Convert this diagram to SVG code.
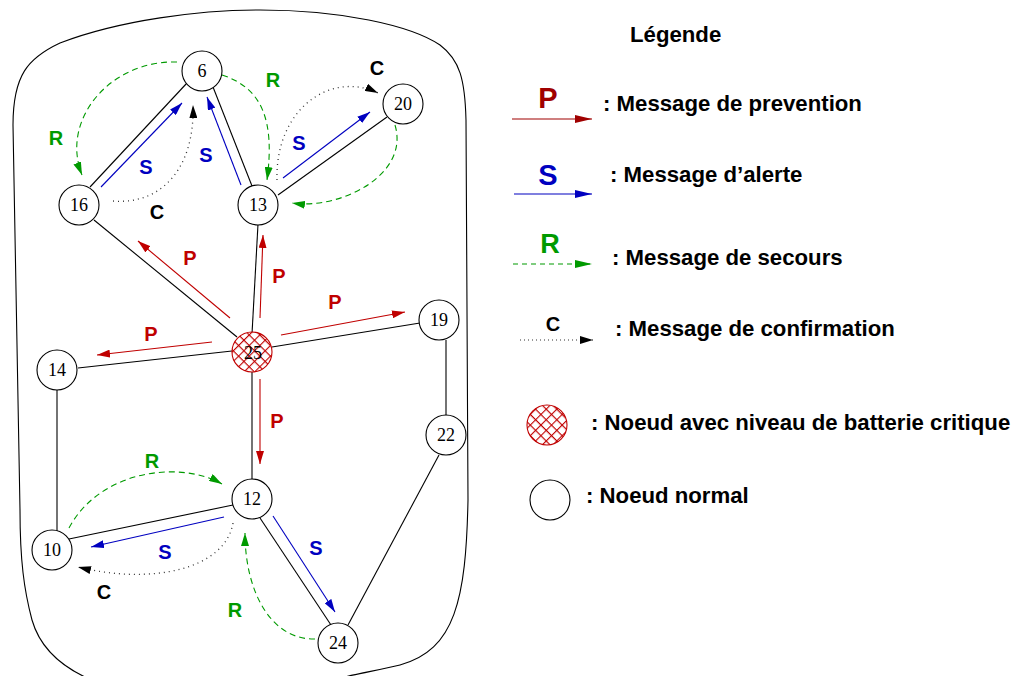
<svg xmlns="http://www.w3.org/2000/svg" width="1013" height="676" viewBox="0 0 1013 676">
<style>
.edge{stroke:#000;stroke-width:1.1;fill:none}
.node circle{fill:#fff;stroke:#000;stroke-width:1.1}
.nl{font-family:"Liberation Serif",serif;font-size:18px;text-anchor:middle;fill:#000}
.lbl{font-family:"Liberation Sans",Arial,sans-serif;font-weight:bold;font-size:20px;text-anchor:middle}
.leg{font-family:"Liberation Sans",Arial,sans-serif;font-weight:bold;font-size:22.2px;fill:#000}
.p{stroke:#c00000;stroke-width:1.1;fill:none;marker-end:url(#mP)}
.s{stroke:#0000c0;stroke-width:1.1;fill:none;marker-end:url(#mS)}
.r{stroke:#009a00;stroke-width:1.1;fill:none;stroke-dasharray:6,4;marker-end:url(#mR)}
.c{stroke:#333;stroke-width:1.3;fill:none;stroke-dasharray:1,4;marker-end:url(#mC)}
.pt{fill:#c00000}.st{fill:#0000c0}.rt{fill:#009a00}.ct{fill:#000}
</style>
<defs>
<marker id="mP" markerUnits="userSpaceOnUse" markerWidth="13" markerHeight="8" viewBox="0 0 13 8" refX="13" refY="4" orient="auto"><path d="M0,0 L13,4 L0,8 Z" fill="#c00000"/></marker>
<marker id="mS" markerUnits="userSpaceOnUse" markerWidth="13" markerHeight="8" viewBox="0 0 13 8" refX="13" refY="4" orient="auto"><path d="M0,0 L13,4 L0,8 Z" fill="#0000c0"/></marker>
<marker id="mR" markerUnits="userSpaceOnUse" markerWidth="13" markerHeight="8" viewBox="0 0 13 8" refX="13" refY="4" orient="auto"><path d="M0,0 L13,4 L0,8 Z" fill="#009a00"/></marker>
<marker id="mC" markerUnits="userSpaceOnUse" markerWidth="13" markerHeight="8" viewBox="0 0 13 8" refX="13" refY="4" orient="auto"><path d="M0,0 L13,4 L0,8 Z" fill="#000"/></marker>
<marker id="lP" markerUnits="userSpaceOnUse" markerWidth="17" markerHeight="8" viewBox="0 0 17 8" refX="17" refY="4" orient="auto"><path d="M0,0 L17,4 L0,8 Z" fill="#a00000"/></marker>
<marker id="lS" markerUnits="userSpaceOnUse" markerWidth="17" markerHeight="8" viewBox="0 0 17 8" refX="17" refY="4" orient="auto"><path d="M0,0 L17,4 L0,8 Z" fill="#0000c0"/></marker>
<marker id="lR" markerUnits="userSpaceOnUse" markerWidth="17" markerHeight="8" viewBox="0 0 17 8" refX="17" refY="4" orient="auto"><path d="M0,0 L17,4 L0,8 Z" fill="#009a00"/></marker>
<pattern id="hatch" patternUnits="userSpaceOnUse" width="7.5" height="7.5" patternTransform="rotate(45)">
<rect width="7.5" height="7.5" fill="#fff"/>
<path d="M0,0 L0,7.5 M0,0 L7.5,0" stroke="#c00000" stroke-width="2.2"/>
</pattern>
</defs>
<rect width="1013" height="676" fill="#fff"/>

<g id="boundary">
<path class="edge" d="M13,125 C13,75 28,58 60,43 C120,20 200,10 260,10 C340,10 410,25 440,45 C460,60 465,80 466,120 L468,500 C466,600 455,650 400,665 C380,670 360,673 345,677 L85,677 C60,665 40,648 32,620 C24,590 20,560 20,510 L13,125 Z"/>
</g>

<g id="edges">
<line class="edge" x1="187" y1="83" x2="90" y2="187"/>
<line class="edge" x1="213" y1="87" x2="252" y2="186"/>
<line class="edge" x1="278" y1="195" x2="387" y2="117"/>
<line class="edge" x1="258" y1="224" x2="252" y2="334"/>
<line class="edge" x1="94" y1="220" x2="237" y2="337"/>
<line class="edge" x1="232" y1="351" x2="78" y2="368"/>
<line class="edge" x1="272" y1="347" x2="420" y2="323"/>
<line class="edge" x1="252" y1="372" x2="252" y2="480"/>
<line class="edge" x1="446" y1="340" x2="446" y2="416"/>
<line class="edge" x1="439" y1="455" x2="348" y2="625"/>
<line class="edge" x1="57" y1="390" x2="57" y2="532"/>
<line class="edge" x1="69" y1="539" x2="233" y2="505"/>
<line class="edge" x1="260" y1="518" x2="331" y2="625"/>
</g>

<g id="connectors">
<!-- P -->
<line class="p" x1="230" y1="318" x2="138" y2="241"/>
<line class="p" x1="260" y1="318" x2="263" y2="235"/>
<line class="p" x1="281" y1="335" x2="405" y2="312"/>
<line class="p" x1="212" y1="342" x2="97" y2="355"/>
<line class="p" x1="260" y1="379" x2="260" y2="464"/>
<!-- S -->
<line class="s" x1="101" y1="187" x2="182" y2="103"/>
<line class="s" x1="241" y1="185" x2="207" y2="97"/>
<line class="s" x1="283" y1="178" x2="370" y2="112"/>
<line class="s" x1="224" y1="517" x2="91" y2="547"/>
<line class="s" x1="273" y1="516" x2="335" y2="612"/>
<!-- R -->
<path class="r" d="M177,62 C110,60 60,120 82,175"/>
<path class="r" d="M222,75 C262,88 275,120 267,180"/>
<path class="r" d="M395,125 C410,175 340,210 292,203"/>
<path class="r" d="M69,528 C100,470 180,460 222,484"/>
<path class="r" d="M315,639 C270,640 245,590 245,533"/>
<!-- C -->
<path class="c" d="M113,201 C160,205 195,170 193,105"/>
<path class="c" d="M277,180 C275,110 330,70 378,93"/>
<path class="c" d="M233,523 C225,570 150,585 78,567"/>
<!-- labels -->
<text class="lbl pt" x="190" y="265">P</text>
<text class="lbl pt" x="279" y="283">P</text>
<text class="lbl pt" x="335" y="309">P</text>
<text class="lbl pt" x="151" y="341">P</text>
<text class="lbl pt" x="277" y="428">P</text>
<text class="lbl st" x="146" y="174">S</text>
<text class="lbl st" x="206" y="162">S</text>
<text class="lbl st" x="299" y="150">S</text>
<text class="lbl st" x="165" y="559">S</text>
<text class="lbl st" x="316" y="555">S</text>
<text class="lbl rt" x="273" y="87">R</text>
<text class="lbl rt" x="56" y="145">R</text>
<text class="lbl rt" x="152" y="468">R</text>
<text class="lbl rt" x="235" y="617">R</text>
<text class="lbl ct" x="377" y="75">C</text>
<text class="lbl ct" x="157" y="219">C</text>
<text class="lbl ct" x="104" y="599">C</text>
</g>

<g id="n6" class="node"><circle cx="202" cy="71" r="20"/><text class="nl" x="202" y="77">6</text></g>
<g id="n16" class="node"><circle cx="79" cy="205" r="20"/><text class="nl" x="79" y="211">16</text></g>
<g id="n13" class="node"><circle cx="258" cy="205" r="20"/><text class="nl" x="258" y="211">13</text></g>
<g id="n20" class="node"><circle cx="403" cy="104" r="20"/><text class="nl" x="403" y="110">20</text></g>
<g id="n25" class="node"><circle cx="252" cy="352" r="20" style="fill:url(#hatch);stroke:#c00000"/><text class="nl" x="253" y="359">25</text></g>
<g id="n19" class="node"><circle cx="439" cy="320" r="20"/><text class="nl" x="439" y="326">19</text></g>
<g id="n22" class="node"><circle cx="446" cy="435" r="20"/><text class="nl" x="446" y="441">22</text></g>
<g id="n14" class="node"><circle cx="57" cy="370" r="20"/><text class="nl" x="57" y="376">14</text></g>
<g id="n12" class="node"><circle cx="252" cy="499" r="20"/><text class="nl" x="252" y="505">12</text></g>
<g id="n10" class="node"><circle cx="52" cy="550" r="20"/><text class="nl" x="52" y="556">10</text></g>
<g id="n24" class="node"><circle cx="338" cy="643" r="20"/><text class="nl" x="338" y="649">24</text></g>

<g id="legend">
<text class="leg" x="630" y="42">Légende</text>
<text class="lbl" x="548" y="108" style="font-size:29px;fill:#a00000">P</text>
<line x1="512" y1="119" x2="592" y2="119" stroke="#a00000" stroke-width="1.1" marker-end="url(#lP)"/>
<text class="leg" x="603" y="111">: Message de prevention</text>
<text class="lbl" x="548" y="185" style="font-size:29px;fill:#0000c0">S</text>
<line x1="514" y1="194" x2="592" y2="194" stroke="#0000c0" stroke-width="1.1" marker-end="url(#lS)"/>
<text class="leg" x="610" y="182">: Message d’alerte</text>
<text class="lbl" x="550" y="253" style="font-size:27px;fill:#009a00">R</text>
<line x1="513" y1="264" x2="592" y2="264" stroke="#009a00" stroke-width="1.1" stroke-dasharray="5,4" marker-end="url(#lR)"/>
<text class="leg" x="612" y="265">: Message de secours</text>
<text class="lbl" x="553" y="331" style="font-size:20px;fill:#000">C</text>
<line x1="520" y1="340" x2="593" y2="340" stroke="#333" stroke-width="1.2" stroke-dasharray="1,3" marker-end="url(#mC)"/>
<text class="leg" x="615" y="336">: Message de confirmation</text>
<circle cx="547" cy="425" r="20" fill="url(#hatch)" stroke="#c00000" stroke-width="1.1"/>
<text class="leg" x="591" y="430">: Noeud avec niveau de batterie critique</text>
<circle cx="550" cy="500" r="20" fill="#fff" stroke="#000" stroke-width="1.1"/>
<text class="leg" x="586" y="503">: Noeud normal</text>
</g>
</svg>
